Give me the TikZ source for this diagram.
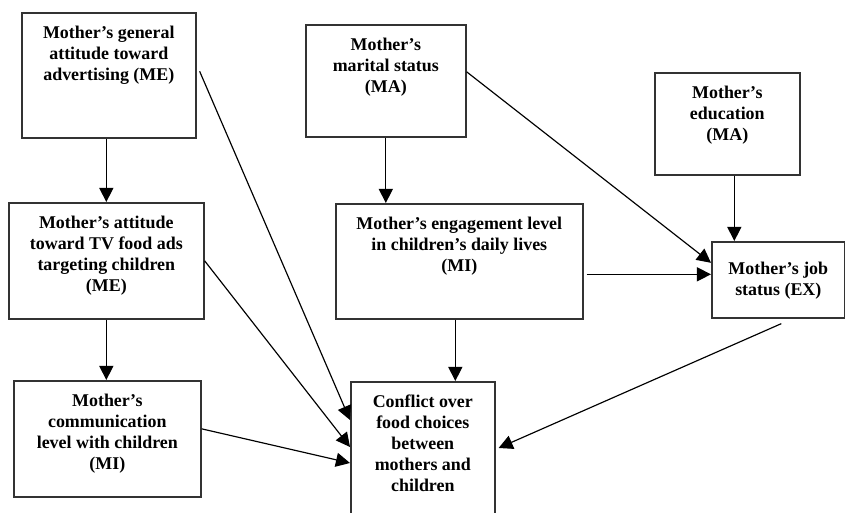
\documentclass[tikz,border=0pt]{standalone}
\usepackage{fontspec}
\setmainfont{Liberation Serif}
\usetikzlibrary{arrows.meta,calc}

\newlength{\pxu}
\setlength{\pxu}{0.03cm}
% text block at the top of a box: width, height, lines
\newcommand{\boxtxt}[3]{\parbox[c][#2\pxu][t]{#1\pxu}{\centering\vspace*{11pt}#3}}

\begin{document}
\begin{tikzpicture}[x=0.03cm,y=-0.03cm,
  box/.style={draw=black!80,line width=1.4pt,fill=white,inner sep=0pt,anchor=north west,
    font=\bfseries\fontsize{15.3}{18}\selectfont},
  arr/.style={line width=1pt,-{Triangle[length=12pt,width=12pt]}}]
  \useasboundingbox (0,0) rectangle (845,513);

  % Left column
  \node[box] (gen) at (21,12) {\boxtxt{174}{125}{Mother's general\\attitude toward\\advertising (ME)}};
  \node[box] (tv) at (8,202) {\boxtxt{195}{116}{Mother's attitude\\toward TV food ads\\targeting children\\(ME)}};
  \node[box] (com) at (13,380) {\boxtxt{187}{116}{Mother's\\communication\\level with children\\(MI)}};

  % Middle column
  \node[box] (mar) at (305,24) {\boxtxt{160}{112}{Mother's\\marital status\\(MA)}};
  \node[box] (eng) at (335,203) {\boxtxt{247}{115}{Mother's engagement level\\in children's daily lives\\(MI)}};
  \node[box] (con) at (350,381) {\boxtxt{144}{140}{Conflict over\\food choices\\between\\mothers and\\children}};

  % Right column
  \node[box] (edu) at (654,72) {\boxtxt{145}{102}{Mother's\\education\\(MA)}};
  \node[box] (job) at (711,241) {\boxtxt{133}{76}{\vspace*{6pt}Mother's job\\status (EX)}};

  % Paths down the left
  \draw[arr] (gen.south -| tv.north) -- (tv.north);
  \draw[arr] (tv.south) -- (tv.south |- com.north);

  % Paths down the middle and right
  \draw[arr] (mar.south) -- (mar.south |- eng.north);
  \draw[arr] ([xshift=7\pxu]edu.south) -- ([xshift=7\pxu]edu.south |- job.north);
  \draw[arr] ([yshift=9\pxu]mar.east) -- ([yshift=17\pxu]job.west);
  \draw[arr] ([xshift=3\pxu,yshift=-13\pxu]eng.east) -- ([yshift=-13\pxu]eng.east -| job.west);
  \draw[arr] ([xshift=-4\pxu]eng.south) -- ([xshift=-4\pxu]eng.south |- con.north);

  % Paths into the conflict box
  \draw[arr] ([xshift=3\pxu,yshift=4\pxu]gen.east) -- ([yshift=-39\pxu]con.north west);
  \draw[arr] (tv.east) -- ([yshift=-66\pxu]con.north west);
  \draw[arr] ([yshift=10\pxu]com.east) -- ([yshift=-82\pxu]con.north west);
  \draw[arr] ([xshift=3\pxu,yshift=-5\pxu]job.south) -- ([xshift=3\pxu,yshift=-67\pxu]con.north east);
\end{tikzpicture}
\end{document}
